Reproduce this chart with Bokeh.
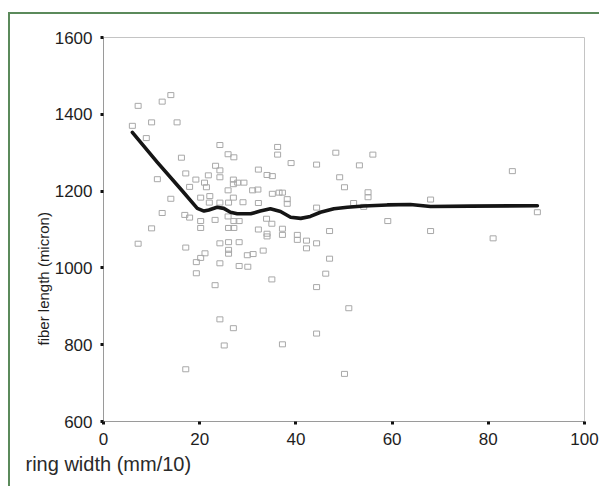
from bokeh.plotting import figure
from bokeh.models import Range1d, FixedTicker, Title, ColumnDataSource
from bokeh.embed import file_html
from bokeh.resources import INLINE

# ring width (mm/10) and fiber length (micron) of the sampled trees
ring_width = [14.0, 12.2, 7.2, 6.0, 10.0, 15.3, 8.9, 16.2, 17.1, 11.2,
              19.2, 21.8, 21.0, 17.9, 14.0, 12.2, 16.9, 17.9, 10.0, 7.2,
              17.1, 24.2, 25.9, 27.1, 23.3, 24.2, 24.2, 21.4, 27.0, 27.0,
              27.9, 29.2, 25.9, 32.2, 34.0, 35.1, 36.2, 36.2, 31.0, 32.1,
              35.1, 36.5, 37.2, 38.2, 38.2, 20.2, 22.1, 22.0, 24.2, 26.0,
              27.0, 29.0, 32.2, 20.2, 20.2, 23.2, 25.9, 27.1, 28.2, 26.0,
              27.1, 32.2, 33.9, 35.0, 34.0, 34.0, 37.2, 37.2, 40.3, 40.3,
              42.2, 42.2, 44.3, 47.0, 47.0, 46.2, 44.3, 24.2, 26.0, 28.2,
              26.0, 26.0, 21.1, 20.2, 19.3, 29.9, 31.1, 33.2, 24.2, 28.2,
              30.0, 19.3, 35.0, 23.2, 24.2, 27.0, 25.1, 17.1, 37.2, 44.3,
              51.0, 50.1, 39.0, 48.3, 56.0, 44.3, 53.2, 49.1, 50.1, 55.0,
              55.0, 44.3, 52.0, 54.1, 59.1, 85.0, 68.0, 68.0, 81.0, 90.2]
fiber_length = [1450, 1433, 1422, 1370, 1379, 1379, 1338, 1287, 1246, 1231,
                1230, 1241, 1222, 1211, 1180, 1143, 1138, 1131, 1103, 1063,
                1053, 1320, 1296, 1288, 1266, 1254, 1236, 1210, 1230, 1218,
                1222, 1222, 1202, 1256, 1242, 1239, 1315, 1295, 1202, 1204,
                1193, 1196, 1196, 1179, 1167, 1183, 1187, 1170, 1170, 1170,
                1183, 1171, 1169, 1122, 1104, 1125, 1134, 1122, 1122, 1104,
                1104, 1100, 1128, 1115, 1089, 1082, 1102, 1086, 1086, 1073,
                1071, 1051, 1064, 1096, 1024, 985, 950, 1064, 1067, 1067,
                1047, 1037, 1038, 1026, 1015, 1033, 1036, 1045, 1012, 1005,
                1003, 986, 970, 955, 866, 843, 798, 736, 801, 829,
                895, 724, 1273, 1300, 1295, 1269, 1267, 1236, 1210, 1197,
                1184, 1157, 1169, 1159, 1122, 1252, 1178, 1096, 1077, 1145]

# smoothed fit line
fit_x = [6.0, 11.2, 16.0, 19.5, 20.9, 21.9, 23.6, 25.0, 26.4, 27.8, 30.6,
         32.6, 34.7, 36.8, 38.9, 41.0, 43.0, 45.1, 47.9, 50.7, 54.1, 59.0,
         63.8, 68.0, 76.3, 90.2]
fit_y = [1353, 1275, 1206, 1155, 1148, 1151, 1158, 1155, 1145, 1141, 1141,
         1148, 1154, 1147, 1132, 1129, 1134, 1145, 1154, 1158, 1161, 1164,
         1165, 1160, 1161, 1162]

x_ticks = [0, 20, 40, 60, 80, 100]
y_ticks = [600, 800, 1000, 1200, 1400, 1600]
x_title = "ring width (mm/10)"
y_title = "fiber length (micron)"

p = figure(width=591, height=474, output_backend="svg", toolbar_location=None,
           x_range=Range1d(0, 100), y_range=Range1d(600, 1600),
           min_border_left=93, min_border_right=17, min_border_top=23,
           min_border_bottom=67)
p.styles = {"margin-top": "12px", "margin-left": "8px",
            "border-left": "2px solid #5b8a5b",
            "border-top": "2px solid #5b8a5b"}

p.grid.visible = False
p.outline_line_color = "#c4c4c4"
p.outline_line_width = 1
p.background_fill_color = "white"
p.border_fill_color = "white"

for ax, ticks in ((p.xaxis[0], x_ticks), (p.yaxis[0], y_ticks)):
    ax.ticker = FixedTicker(ticks=ticks)
    ax.minor_tick_line_color = None
    ax.major_tick_line_color = "#111111"
    ax.major_tick_line_width = 3
    ax.major_tick_out = 3
    ax.major_tick_in = 0
    ax.axis_line_color = "#9a9a9a"
    ax.axis_line_width = 1
    ax.major_label_text_font = "Liberation Sans"
    ax.major_label_text_font_size = "17px"
    ax.major_label_text_color = "#1e1e1e"
p.xaxis.major_label_standoff = 8
p.yaxis.major_label_standoff = 8

src = ColumnDataSource(dict(x=ring_width, y=fiber_length))
p.rect("x", "y", width=6, height=5, width_units="screen", height_units="screen",
       source=src, fill_color=None, line_color="#a8a8a8", line_width=1)

p.line(fit_x, fit_y, line_color="#151515", line_width=3.6, line_join="round",
       line_cap="round")

p.add_layout(Title(text=y_title, align="left", offset=76, standoff=0,
                   text_font="Liberation Sans", text_font_size="15px",
                   text_font_style="normal", text_color="#1e1e1e"), "left")
p.add_layout(Title(text=x_title, align="left", offset=-78, standoff=6,
                   text_font="Liberation Sans", text_font_size="20px",
                   text_font_style="normal", text_color="#2a2a2a"), "below")

open("out.html", "w").write(file_html(p, INLINE))
